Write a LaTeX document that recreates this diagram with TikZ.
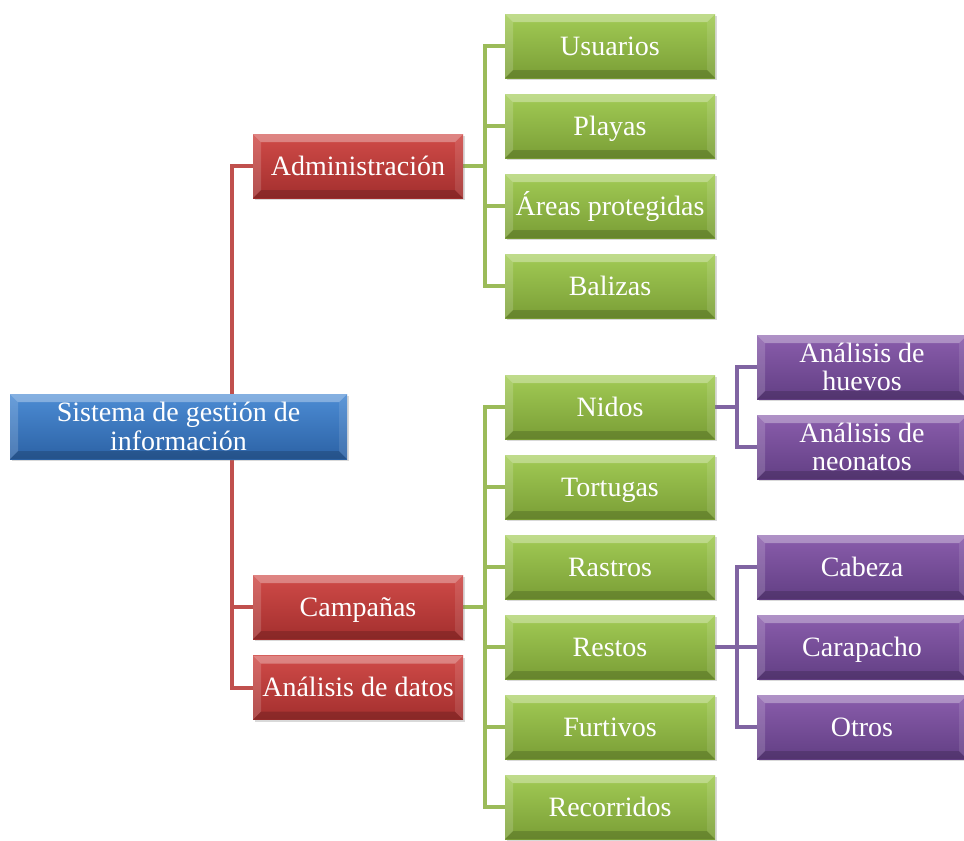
\documentclass[tikz,border=0pt]{standalone}
\usepackage{fontspec}
\setmainfont{Liberation Serif}
\usetikzlibrary{shadows,backgrounds}
\definecolor{redT}{HTML}{D04B48}
\definecolor{redB}{HTML}{A32F2E}
\definecolor{grnT}{HTML}{A2CB55}
\definecolor{grnB}{HTML}{7A9E36}
\definecolor{bluT}{HTML}{4C8CD4}
\definecolor{bluB}{HTML}{2C62A5}
\definecolor{purT}{HTML}{8A5DAC}
\definecolor{purB}{HTML}{623F84}
\definecolor{redL}{HTML}{C0504D}
\definecolor{grnL}{HTML}{9BBB59}
\definecolor{purL}{HTML}{8064A2}
\tikzset{
  bevel/.style={path picture={
    \coordinate (pNW) at (path picture bounding box.north west);
    \coordinate (pNE) at (path picture bounding box.north east);
    \coordinate (pSW) at (path picture bounding box.south west);
    \coordinate (pSE) at (path picture bounding box.south east);
    \coordinate (iNW) at ([shift={(6pt,-6pt)}]pNW);
    \coordinate (iNE) at ([shift={(-6pt,-6pt)}]pNE);
    \coordinate (iSW) at ([shift={(6pt,6pt)}]pSW);
    \coordinate (iSE) at ([shift={(-6pt,6pt)}]pSE);
    \fill[white,opacity=0.32] (pNW) -- (pNE) -- (iNE) -- (iNW) -- cycle;
    \fill[white,opacity=0.16] (pNW) -- (iNW) -- (iSW) -- (pSW) -- cycle;
    \fill[white,opacity=0.10] (pNE) -- (pSE) -- (iSE) -- (iNE) -- cycle;
    \fill[black,opacity=0.16] (pSW) -- (pSE) -- (iSE) -- (iSW) -- cycle;
  }},
  bx/.style={rectangle, minimum width=157.5pt, minimum height=48pt, inner sep=0pt,
    text=white, font=\fontsize{21}{21.5}\selectfont, align=center, bevel,
    drop shadow={opacity=0.3,shadow xshift=1.5pt,shadow yshift=-1.5pt}},
  one/.style={text height=18pt, text depth=4pt},
  redbox/.style={bx, top color=redT, bottom color=redB},
  grnbox/.style={bx, one, top color=grnT, bottom color=grnB},
  blubox/.style={bx, top color=bluT, bottom color=bluB, minimum width=252.75pt, minimum height=48.75pt},
  purbox/.style={bx, top color=purT, bottom color=purB},
  ln/.style={line width=3pt, line join=miter},
}
\begin{document}
\begin{tikzpicture}[x=0.75pt,y=-0.75pt]
\useasboundingbox (0,0) rectangle (964,840);
% root
\node[blubox] (root) at (178.5,426.5) {Sistema de gestión de\\información};
% red
\node[redbox,one] (adm) at (358,166) {Administración};
\node[redbox,one] (camp) at (358,607) {Campañas};
\node[redbox,one] (dat) at (358,687.5) {Análisis de datos};
% green
\node[grnbox] (usu) at (610,46) {Usuarios};
\node[grnbox] (pla) at (610,126) {Playas};
\node[grnbox] (are) at (610,206) {Áreas protegidas};
\node[grnbox] (bal) at (610,286) {Balizas};
\node[grnbox] (nid) at (610,407) {Nidos};
\node[grnbox] (tor) at (610,487) {Tortugas};
\node[grnbox] (ras) at (610,567) {Rastros};
\node[grnbox] (res) at (610,647) {Restos};
\node[grnbox] (fur) at (610,727) {Furtivos};
\node[grnbox] (rec) at (610,807) {Recorridos};
% purple
\node[purbox] (hue) at (862,367) {Análisis de\\huevos};
\node[purbox] (neo) at (862,447) {Análisis de\\neonatos};
\node[purbox,one] (cab) at (862,567) {Cabeza};
\node[purbox,one] (car) at (862,647) {Carapacho};
\node[purbox,one] (otr) at (862,727) {Otros};
% buses
\coordinate (rbus) at (232,0);
\coordinate (gbus) at (485,0);
\coordinate (pbus) at (737,0);
\begin{scope}[on background layer]
\draw[ln,redL] (adm.west) -| (rbus |- dat.west) -- (dat.west);
\draw[ln,redL] (camp.west) -- (rbus |- camp.west);
\draw[ln,grnL] (adm.east) -- (gbus |- adm.east);
\draw[ln,grnL] (usu.west) -| (gbus |- bal.west) -- (bal.west);
\draw[ln,grnL] (pla.west) -- (gbus |- pla.west);
\draw[ln,grnL] (are.west) -- (gbus |- are.west);
\draw[ln,grnL] (camp.east) -- (gbus |- camp.east);
\draw[ln,grnL] (nid.west) -| (gbus |- rec.west) -- (rec.west);
\foreach \n in {tor,ras,res,fur} \draw[ln,grnL] (\n.west) -- (gbus |- \n.west);
\draw[ln,purL] (nid.east) -- (pbus |- nid.east);
\draw[ln,purL] (hue.west) -| (pbus |- neo.west) -- (neo.west);
\draw[ln,purL] (res.east) -- (pbus |- res.east);
\draw[ln,purL] (cab.west) -| (pbus |- otr.west) -- (otr.west);
\draw[ln,purL] (car.west) -- (pbus |- car.west);
\end{scope}
\end{tikzpicture}
\end{document}
